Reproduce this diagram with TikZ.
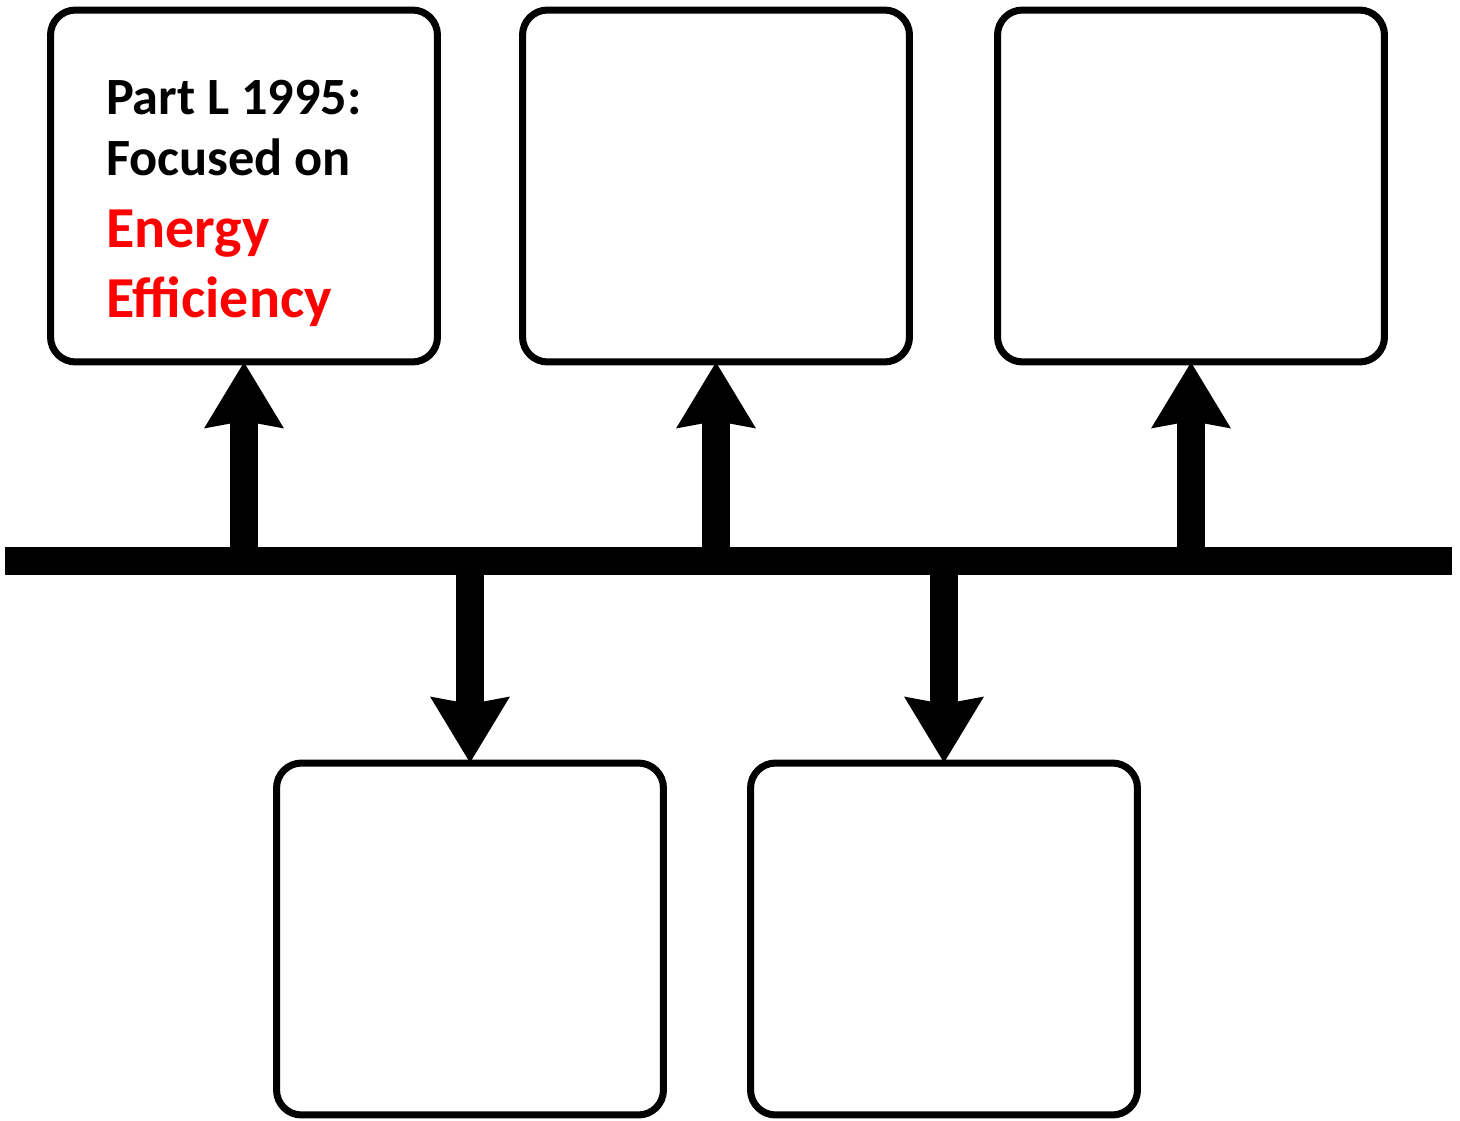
\documentclass[tikz,border=0pt]{standalone}
\usepackage{fontspec}
\setmainfont{Carlito}
\usetikzlibrary{arrows.meta,calc}
\newcommand{\hot}[1]{{\fontsize{33}{35}\selectfont\textcolor{red}{#1}}}
\tikzset{
    stage/.style = {
        draw, fill=white, rectangle, rounded corners=0.5cm,
        line width=4pt,
        outer sep=0,
        inner sep=0,
        minimum width={7.74cm},
        minimum height={7.04cm}
    },
    note/.style = {
        align=left, anchor=north west,
        inner sep=0, outer sep=0,
        font=\fontsize{29.8}{36}\selectfont\bfseries
    },
    spine/.style = {
        fill=black, rectangle,
        inner sep=0, outer sep=0,
        minimum width={28.94cm},
        minimum height={0.56cm}
    },
    link/.style = {
        line width=16pt,
        -{Stealth[width=1.52cm,length=1.3cm,inset=0.12cm]}
    }
}

\begin{document}
\begin{tikzpicture}[x=0.02cm,y=-0.02cm]
\useasboundingbox (0,0) rectangle (1460,1121);

% 1. timeline bar
\node[spine] (bar) at (728.5,561) {};

% 2. boxes above and below
\node[stage] (up1)   at (244,186)  {};
\node[stage] (up2)   at (716,186)  {};
\node[stage] (up3)   at (1191,186) {};
\node[stage] (down1) at (470,939)  {};
\node[stage] (down2) at (944,939)  {};

% 3. text of first box
\node[note] (note1) at (106,80)
  {Part L 1995:\\[-0.04cm]Focused on\\[0.18cm]\hot{Energy}\\[0.12cm]\hot{Ef{}f{}iciency}};

% 4. arrows
\draw [link] (up1.south |- bar.north) -- (up1.south);
\draw [link] (up2.south |- bar.north) -- (up2.south);
\draw [link] (up3.south |- bar.north) -- (up3.south);
\draw [link] (down1.north |- bar.south) -- (down1.north);
\draw [link] (down2.north |- bar.south) -- (down2.north);

\end{tikzpicture}
\end{document}
